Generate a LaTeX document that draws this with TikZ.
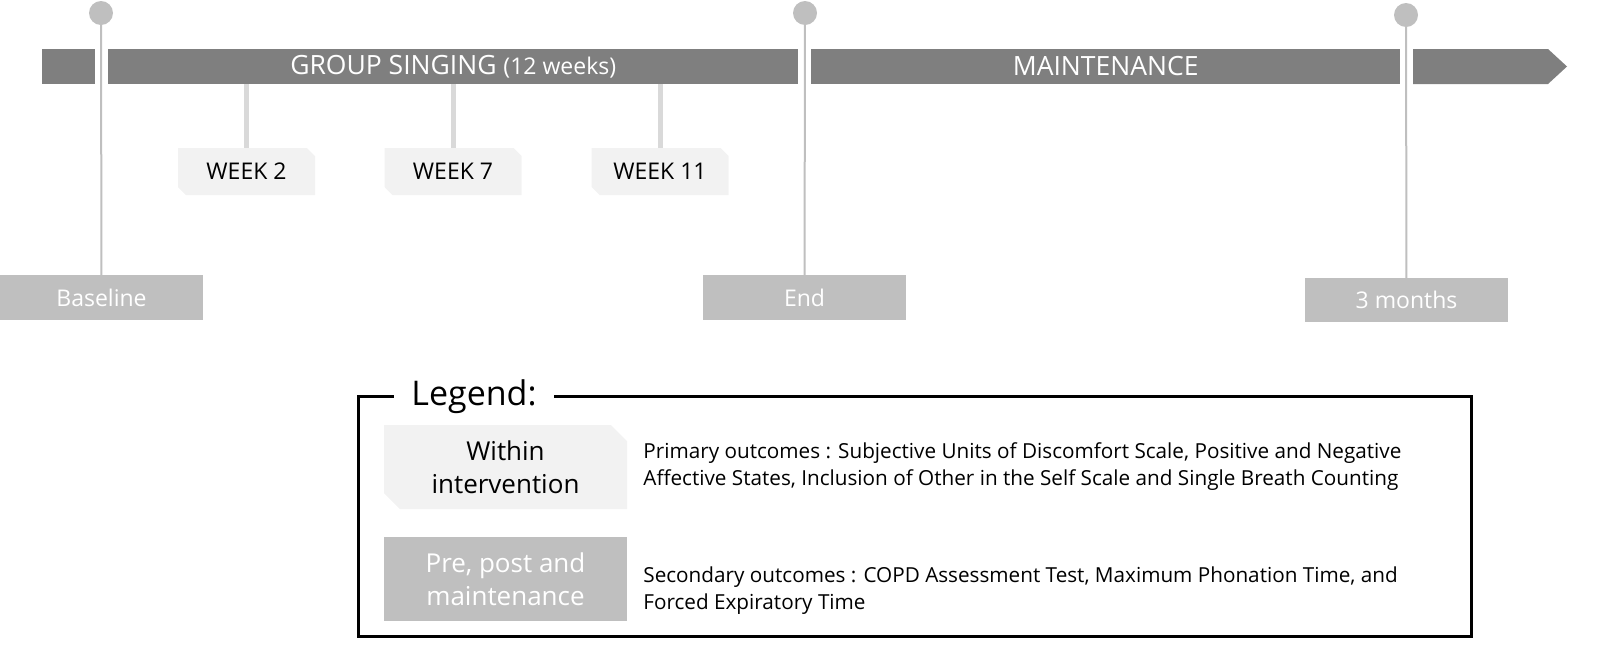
\documentclass[tikz,border=0pt]{standalone}
\usepackage{fontspec}
\setmainfont{Open Sans}
\usetikzlibrary{shapes.misc}
\usetikzlibrary{positioning}
\definecolor{bardark}{HTML}{7F7F7F}
\definecolor{pingray}{HTML}{BFBFBF}
\definecolor{linkgray}{HTML}{D9D9D9}
\definecolor{boxlight}{HTML}{F2F2F2}
\tikzstyle{barseg}=[fill=bardark, text=white, minimum height=35, inner sep=0, anchor=west, font=\fontsize{26.5}{30}\selectfont]
\tikzstyle{pin}=[circle, fill=pingray, minimum size=24, inner sep=0]
\tikzstyle{pinline}=[draw=pingray, line width=2]
\tikzstyle{timebox}=[fill=pingray, text=white, minimum width=203, minimum height=45, inner sep=0, font=\fontsize{23}{26}\selectfont]
\tikzstyle{weekbox}=[chamfered rectangle, chamfered rectangle corners={north east, south west}, chamfered rectangle xsep=4, chamfered rectangle ysep=4, fill=boxlight, minimum width=137, minimum height=47, inner sep=0, font=\fontsize{23}{26}\selectfont]
\tikzstyle{weeklink}=[draw=linkgray, line width=5]
\tikzstyle{legbox}=[minimum width=243, minimum height=84, inner sep=0, align=center, font=\fontsize{26}{33}\selectfont]
\tikzstyle{outtext}=[anchor=west, align=left, inner sep=0, font=\fontsize{20.7}{27}\selectfont]

\begin{document}
\begin{tikzpicture}[x=1pt, y=-1pt]
  \useasboundingbox (0,0) rectangle (1608,654);
  % time bar
  \node[barseg, minimum width=53] (bar0) at (42,66.5) {};
  \node[barseg, minimum width=690] (sing) at (108,66.5) {GROUP SINGING {\fontsize{23}{26}\selectfont(12 weeks)}};
  \node[barseg, minimum width=589] (maint) at (811,66.5) {MAINTENANCE};
  \fill[bardark] (1413,49) -- (1548,49) -- (1567,66.5) -- (1548,84) -- (1413,84) -- cycle;
  % measurement points
  \node[pin] (pinbase) at (101,13) {};
  \node[pin] (pinend) at (805,13) {};
  \node[pin] (pinfollow) at (1406,15) {};
  \node[timebox] (base) at (101.5,297.5) {Baseline};
  \node[timebox] (end) at (804.5,297.5) {End};
  \node[timebox, minimum height=44] (follow) at (1406.5,300) {3 months};
  \draw[pinline] (pinbase) -- (base);
  \draw[pinline] (pinend) -- (end);
  \draw[pinline] (pinfollow) -- (follow);
  % within intervention
  \node[weekbox] (wk2) at (246.5,171.5) {WEEK 2};
  \node[weekbox] (wk7) at (453,171.5) {WEEK 7};
  \node[weekbox] (wk11) at (660,171.5) {WEEK 11};
  \foreach \w in {wk2, wk7, wk11}
    \draw[weeklink] (\w.north) -- (\w.north |- sing.south);
  % legend
  \draw[line width=3] (358,396) rectangle (1471,636);
  \node[fill=white, inner xsep=17, inner ysep=0, font=\fontsize{34}{38}\selectfont] (legend) at (474,397) {Legend:};
  \node[legbox, chamfered rectangle, chamfered rectangle corners={north east, south west}, chamfered rectangle xsep=8, chamfered rectangle ysep=8, fill=boxlight] (within) at (505.5,467) {Within\\intervention};
  \node[legbox, fill=pingray, text=white] (prepost) at (505.5,579) {Pre, post and\\maintenance};
  \node[outtext, right=16 of within] (primary) {Primary outcomes : Subjective Units of Discomfort Scale, Positive and Negative\\Affective States, Inclusion of Other in the Self Scale and Single Breath Counting};
  \node[outtext, right=16 of prepost, yshift=-12] (secondary) {Secondary outcomes : COPD Assessment Test, Maximum Phonation Time, and\\Forced Expiratory Time};
\end{tikzpicture}
\end{document}
